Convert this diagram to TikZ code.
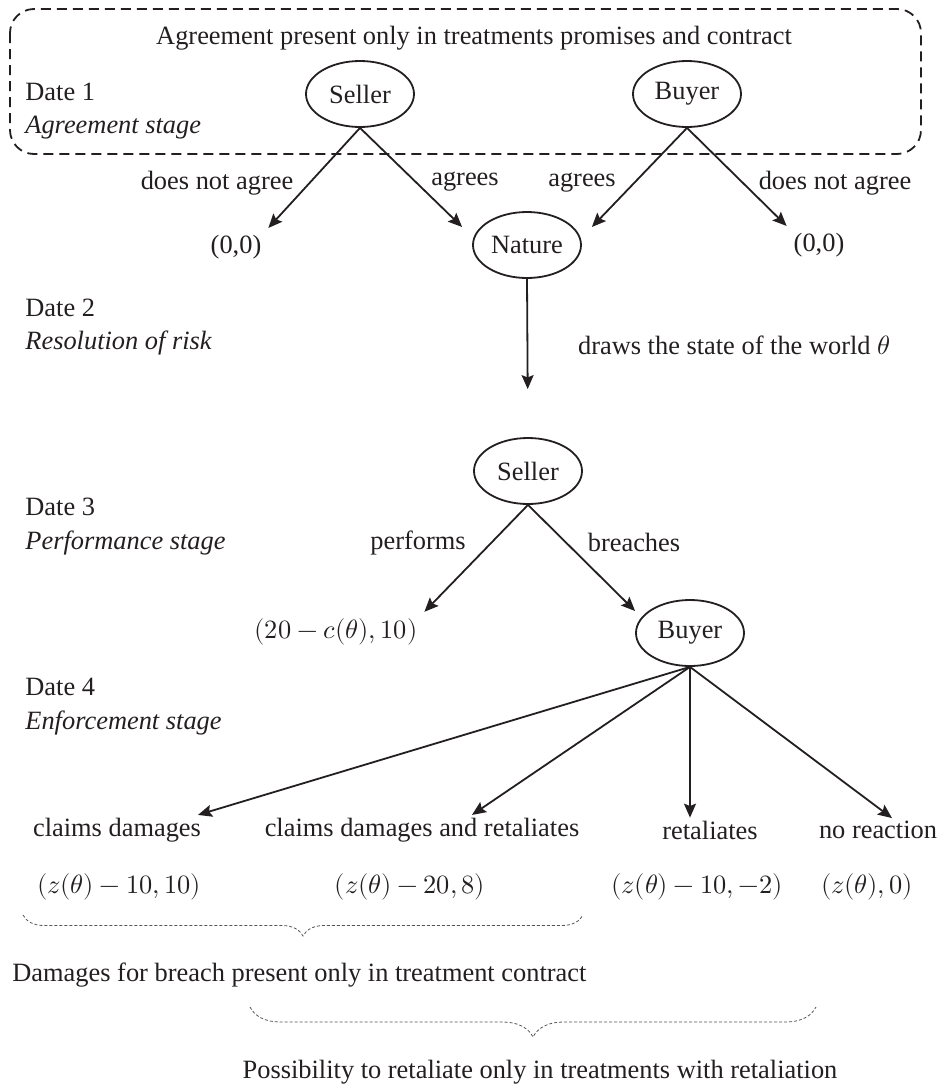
\documentclass[tikz,border=0pt]{standalone}
\usepackage{amsmath}
\usepackage{fontspec}
\usepackage{unicode-math}
\setmainfont{Liberation Serif}
\setmathfont{Latin Modern Math}
\usepackage{tikz}
\usetikzlibrary{arrows.meta,shapes.geometric,positioning,calc,decorations.pathreplacing}
\definecolor{gameInk}{HTML}{231F20}
\definecolor{gameBraceInk}{HTML}{555555}
\tikzset{
  gamePlayer/.style={ellipse,draw=gameInk,line width=0.9pt,text=gameInk,
    minimum width=54pt,minimum height=33pt,inner sep=0pt},
  gameLabel/.style={text=gameInk},
  gameStage/.style={text=gameInk,anchor=west,inner sep=0pt},
  gameEdge/.style={draw=gameInk,line width=0.9pt,
    -{Stealth[length=7pt,width=6pt,inset=1.2pt]}},
  gameBox/.style={draw=gameInk,line width=0.9pt,dash pattern=on 5pt off 3pt,
    rounded corners=12pt},
  gameBrace/.style={draw=gameBraceInk,line width=0.4pt,
    dash pattern=on 1.5pt off 1pt,decorate}
}

\begin{document}
\begin{tikzpicture}[x=0.5pt,y=-0.5pt,
  every node/.style={font=\fontsize{13.2}{16}\selectfont}]
\useasboundingbox (0,0) rectangle (943,1087);
\draw[gameBox] (10,9) rectangle (921,154);
\node[gameLabel] (agreeNote) at (474,38)
  {Agreement present only in treatments promises and contract};
\node[gameStage] (date1) at (25,92) {Date 1};
\node[gameStage] (stage1) at (25,128) {\itshape Agreement stage};
\node[gamePlayer] (seller1) at (360,94) {Seller};
\node[gamePlayer] (buyer1) at (687,94) {Buyer};
\node[gameLabel] (sellerNo) at (217,183) {does not agree};
\node[gameLabel] (sellerYes) at (465,182) {agrees};
\node[gameLabel] (buyerYes) at (582,183) {agrees};
\node[gameLabel] (buyerNo) at (835,183) {does not agree};
\node[gameLabel] (zeroSeller) at (236,247) {(0,0)};
\node[gamePlayer] (nature) at (527,245) {Nature};
\node[gameLabel] (zeroBuyer) at (819,245) {(0,0)};
\node[gameStage] (date2) at (25,308) {Date 2};
\node[gameStage] (stage2) at (25,343) {\itshape Resolution of risk};
\node[gameLabel] (draws) at (734,345) {draws the state of the world $\theta$};
\node[gamePlayer] (seller2) at (528,471) {Seller};
\node[gameStage] (date3) at (25,507) {Date 3};
\node[gameStage] (stage3) at (25,543) {\itshape Performance stage};
\node[gameLabel] (performs) at (418,543) {performs};
\node[gameLabel] (breaches) at (634,542) {breaches};
\node[gameLabel] (payPerform) at (336,632) {$(20-c(\theta),10)$};
\node[gamePlayer] (buyer2) at (690,633) {Buyer};
\node[gameStage] (date4) at (25,687) {Date 4};
\node[gameStage] (stage4) at (25,723) {\itshape Enforcement stage};
\node[gameLabel] (claims) at (117,830) {claims damages};
\node[gameLabel] (claimsRet) at (422,830) {claims damages and retaliates};
\node[gameLabel] (retaliates) at (710,830) {retaliates};
\node[gameLabel] (noReaction) at (878,830) {no reaction};
\node[gameLabel] (payClaims) at (119,887) {$(z(\theta)-10,10)$};
\node[gameLabel] (payClaimsRet) at (410,887) {$(z(\theta)-20,8)$};
\node[gameLabel] (payRetaliates) at (697,887) {$(z(\theta)-10,-2)$};
\node[gameLabel] (payNone) at (867,887) {$(z(\theta),0)$};
\node[gameStage] (damagesNote) at (12,975)
  {Damages for breach present only in treatment contract};
\node[gameLabel] (retaliationNote) at (540,1072)
  {Possibility to retaliate only in treatments with retaliation};
\draw[gameEdge] (seller1.south) -- (zeroSeller.north east);
\draw[gameEdge] (seller1.south) -- ([xshift=-5pt,yshift=9pt]nature.west);
\draw[gameEdge] (buyer1.south) -- ([xshift=5pt,yshift=9pt]nature.east);
\draw[gameEdge] (buyer1.south) -- (zeroBuyer.north west);
\draw[gameEdge,shorten >=24pt] (nature.south) -- (seller2.north);
\draw[gameEdge] (seller2.south) -- (payPerform.north east);
\draw[gameEdge] (seller2.south) -- ([yshift=11pt]buyer2.west);
\draw[gameEdge] (buyer2.south) -- ([xshift=-5pt,yshift=-2pt]claims.north east);
\draw[gameEdge] (buyer2.south) -- ([xshift=25pt,yshift=-2pt]claimsRet.north);
\draw[gameEdge,shorten >=-2pt] (buyer2.south) -- (buyer2.south |- retaliates.north);
\draw[gameEdge] (buyer2.south) -- ([xshift=7pt,yshift=-2pt]noReaction.north);
\draw[gameBrace,decoration={brace,mirror,amplitude=10.5pt}] (23,915) -- (583,915);
\draw[gameBrace,decoration={brace,mirror,amplitude=15pt}] (250,1007) -- (816,1007);
\end{tikzpicture}
\end{document}
